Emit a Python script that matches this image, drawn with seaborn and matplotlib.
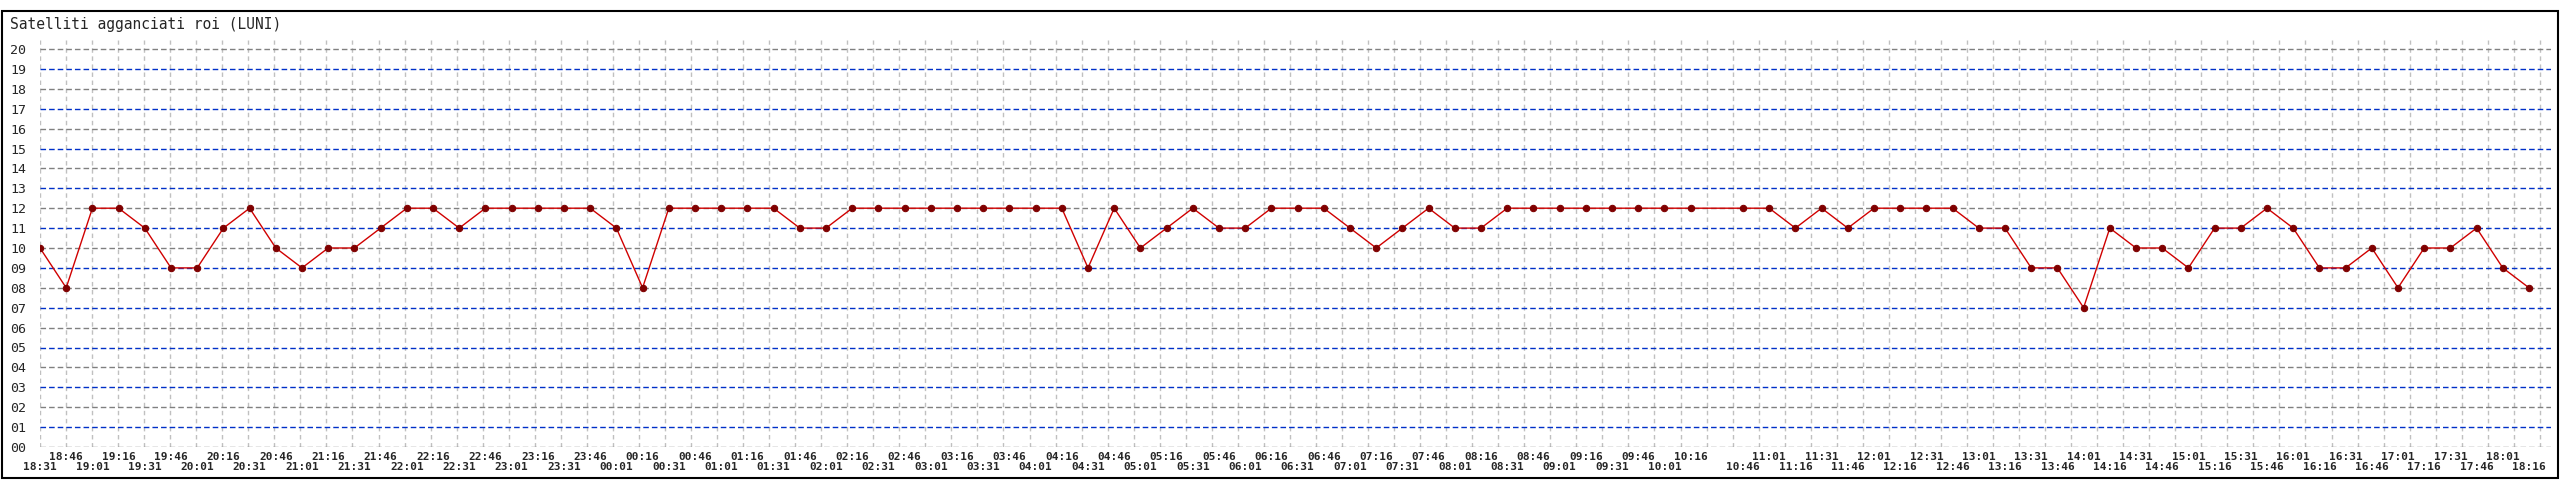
# Satellites locked over 24h, one sample every 15 minutes (slot 10:31 missing)
import matplotlib
matplotlib.use("Agg")
import matplotlib.pyplot as plt
import seaborn as sns
import pandas as pd
from matplotlib.patches import Rectangle

title = "Satelliti agganciati roi (LUNI)"

times = [
    "18:31", "18:46", "19:01", "19:16", "19:31", "19:46", "20:01", "20:16",
    "20:31", "20:46", "21:01", "21:16", "21:31", "21:46", "22:01", "22:16",
    "22:31", "22:46", "23:01", "23:16", "23:31", "23:46",
    "00:01", "00:16", "00:31", "00:46", "01:01", "01:16", "01:31", "01:46",
    "02:01", "02:16", "02:31", "02:46", "03:01", "03:16", "03:31", "03:46",
    "04:01", "04:16", "04:31", "04:46", "05:01", "05:16", "05:31", "05:46",
    "06:01", "06:16", "06:31", "06:46", "07:01", "07:16", "07:31", "07:46",
    "08:01", "08:16", "08:31", "08:46", "09:01", "09:16", "09:31", "09:46",
    "10:01", "10:16",
    "10:46", "11:01", "11:16", "11:31", "11:46", "12:01", "12:16", "12:31",
    "12:46", "13:01", "13:16", "13:31", "13:46", "14:01", "14:16", "14:31",
    "14:46", "15:01", "15:16", "15:31", "15:46", "16:01", "16:16", "16:31",
    "16:46", "17:01", "17:16", "17:31", "17:46", "18:01", "18:16",
]

sats = [
    10, 8, 12, 12, 11, 9, 9, 11, 12, 10, 9, 10, 10, 11, 12, 12, 11, 12, 12, 12, 12, 12, 11,
    8, 12, 12, 12, 12, 12, 11, 11, 12, 12, 12, 12, 12, 12, 12, 12, 12, 9, 12, 10, 11, 12, 11, 11, 12,
    12, 12, 11, 10, 11, 12, 11, 11, 12, 12, 12, 12, 12, 12, 12, 12,
    12, 12, 11, 12, 11, 12, 12, 12, 12, 11, 11, 9, 9, 7, 11, 10, 10, 9, 11, 11, 12, 11, 9, 9, 10, 8, 10, 10, 11, 9, 8,
]

y_values = list(range(0, 21))

df = pd.DataFrame({"time": times, "sats": sats})
mins = df["time"].str.slice(0, 2).astype(int) * 60 + df["time"].str.slice(3, 5).astype(int)
df["slot"] = ((mins - mins.iloc[0]) % 1440) / 15

sns.set_style("white")
plt.rcParams["font.family"] = ["DejaVu Sans Mono", "DejaVu Sans"]

W, H = 2560, 480
fig = plt.figure(figsize=(W / 100, H / 100), dpi=100)

# plot area in pixels
left, right, top, bottom = 40, 2551, 40, 447
slot_px = 26.2
unit_px = 19.9
ax = fig.add_axes([left / W, (H - bottom) / H, (right - left) / W, (bottom - top) / H])
ax.set_xlim(0, (right - left) / slot_px)
ax.set_ylim(0, (bottom - top) / unit_px)
for s in ax.spines.values():
    s.set_visible(False)

# vertical grid (slightly different pitch than the samples, as in the source)
grid_step = 26.04 / slot_px
ax.set_xticks([k * grid_step for k in range(97)], minor=True)
ax.grid(True, which="minor", axis="x", color="#c0c0c0", lw=1, linestyle=(0, (3.2, 2.6)))
ax.grid(False, which="major")

# horizontal lines alternate gray / blue
xmax = ax.get_xlim()[1]
for v in y_values:
    col = "#808080" if v % 2 == 0 else "#0030c8"
    ax.hlines(v, 0, xmax, colors=col, lw=1, linestyles=[(0, (4, 2.2))], zorder=1)

sns.lineplot(data=df, x="slot", y="sats", estimator=None, sort=False, ax=ax,
             color="#d00000", lw=1.0, marker="o", markersize=4.6,
             markerfacecolor="#7f0000", markeredgecolor="#7f0000", zorder=3)

ax.set_xlabel("")
ax.set_ylabel("")
ax.set_yticks(y_values)
ax.set_yticklabels([f"{v:02d}" for v in y_values])
ax.tick_params(axis="y", length=0, pad=10, labelsize=9.5)

# time labels in two staggered rows under the points
ax.set_xticks([])
ax.tick_params(axis="x", which="both", length=0, labelbottom=False)
row_top = -10 / (bottom - top)
row_bot = -20 / (bottom - top)
for k, (x, t) in enumerate(zip(df["slot"], df["time"])):
    ax.text(x, row_top if k % 2 else row_bot, t, transform=ax.get_xaxis_transform(),
            ha="center", va="center", fontsize=8, fontweight="bold", clip_on=False)

fig.text(10 / W, 1 - 24 / H, title, fontsize=10.5, va="center", ha="left")
fig.patches.append(Rectangle((2 / W, 2 / H), (W - 4) / W, (H - 13) / H,
                             transform=fig.transFigure, fill=False,
                             edgecolor="black", lw=1.5))

fig.savefig("out.png", dpi=100)
